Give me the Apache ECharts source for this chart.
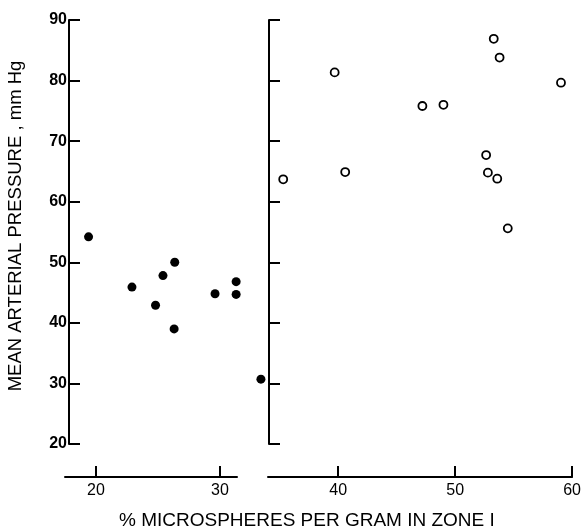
<!DOCTYPE html>
<html>
<head>
<meta charset="utf-8">
<script src="https://cdn.jsdelivr.net/npm/echarts@6/dist/echarts.min.js"></script>
<style>html,body{margin:0;padding:0;background:#fff}#c{width:584px;height:529px}</style>
</head>
<body>
<div id="c"></div>
<script>
// Data
const filledX = [19.4, 22.9, 25.4, 26.35, 24.8, 26.3, 29.6, 31.3, 31.3, 33.3];
const filledY = [54.2, 45.9, 47.8, 50.0, 42.9, 39.0, 44.8, 46.8, 44.7, 30.7];
const openX = [35.3, 39.7, 40.6, 47.2, 49.0, 53.3, 53.8, 59.05, 52.65, 52.8, 53.6, 54.5];
const openY = [63.7, 81.35, 64.9, 75.8, 76.0, 86.9, 83.8, 79.65, 67.7, 64.8, 63.8, 55.6];
const xTicksLeft = [20, 30];
const xTicksRight = [40, 50, 60];
const yTicks = [20, 30, 40, 50, 60, 70, 80, 90];
const yName = 'MEAN ARTERIAL PRESSURE , mm Hg';
const xName = '% MICROSPHERES PER GRAM IN ZONE I';

const font = 'Liberation Sans';
const chart = echarts.init(document.getElementById('c'), null, {renderer: 'canvas'});
const axLine = {show: true, lineStyle: {color: '#000', width: 2}};
const axTick = {show: true, inside: true, length: 11, lineStyle: {color: '#000', width: 2}};

chart.setOption({
  animation: false,
  backgroundColor: '#fff',
  title: {
    text: xName, left: 114, top: 506,
    textStyle: {fontFamily: font, fontSize: 19, fontWeight: 'normal', color: '#000'}
  },
  grid: [
    {left: 65, width: 172, top: 20, bottom: 85},
    {left: 268, right: 10, top: 20, bottom: 85}
  ],
  xAxis: [
    {gridIndex: 0, type: 'value', min: 17.5, max: 31.37, offset: 33,
     axisLine: axLine, axisTick: Object.assign({customValues: xTicksLeft}, axTick), splitLine: {show: false},
     axisLabel: {customValues: xTicksLeft, margin: 6, color: '#000', fontFamily: font, fontSize: 16}},
    {gridIndex: 1, type: 'value', min: 34.0, max: 60, offset: 33,
     axisLine: axLine, axisTick: Object.assign({customValues: xTicksRight}, axTick), splitLine: {show: false},
     axisLabel: {customValues: xTicksRight, margin: 6, color: '#000', fontFamily: font, fontSize: 16}}
  ],
  yAxis: [
    {gridIndex: 0, type: 'value', min: yTicks[0], max: yTicks[yTicks.length - 1], interval: 10, offset: -4,
     axisLine: axLine, axisTick: axTick, splitLine: {show: false},
     axisLabel: {margin: 2, color: '#000', fontFamily: font, fontSize: 16, fontWeight: 'bold'},
     name: yName, nameLocation: 'middle', nameGap: 44, nameRotate: 90,
     nameTextStyle: {fontFamily: font, fontSize: 18.5, color: '#000', padding: [0, 0, 0, 12]}},
    {gridIndex: 1, type: 'value', min: yTicks[0], max: yTicks[yTicks.length - 1], interval: 10, offset: -1,
     axisLine: axLine, axisTick: axTick, splitLine: {show: false},
     axisLabel: {show: false}}
  ],
  series: [
    {type: 'scatter', xAxisIndex: 0, yAxisIndex: 0, clip: false,
     data: filledX.map((x, i) => [x, filledY[i]]),
     symbol: 'circle', symbolSize: 9, itemStyle: {color: '#000', opacity: 1}},
    {type: 'scatter', xAxisIndex: 1, yAxisIndex: 1, clip: false,
     data: openX.map((x, i) => [x, openY[i]]),
     symbol: 'circle', symbolSize: 8, itemStyle: {color: '#fff', borderColor: '#000', borderWidth: 1.8, opacity: 1}}
  ]
});
</script>
</body>
</html>
